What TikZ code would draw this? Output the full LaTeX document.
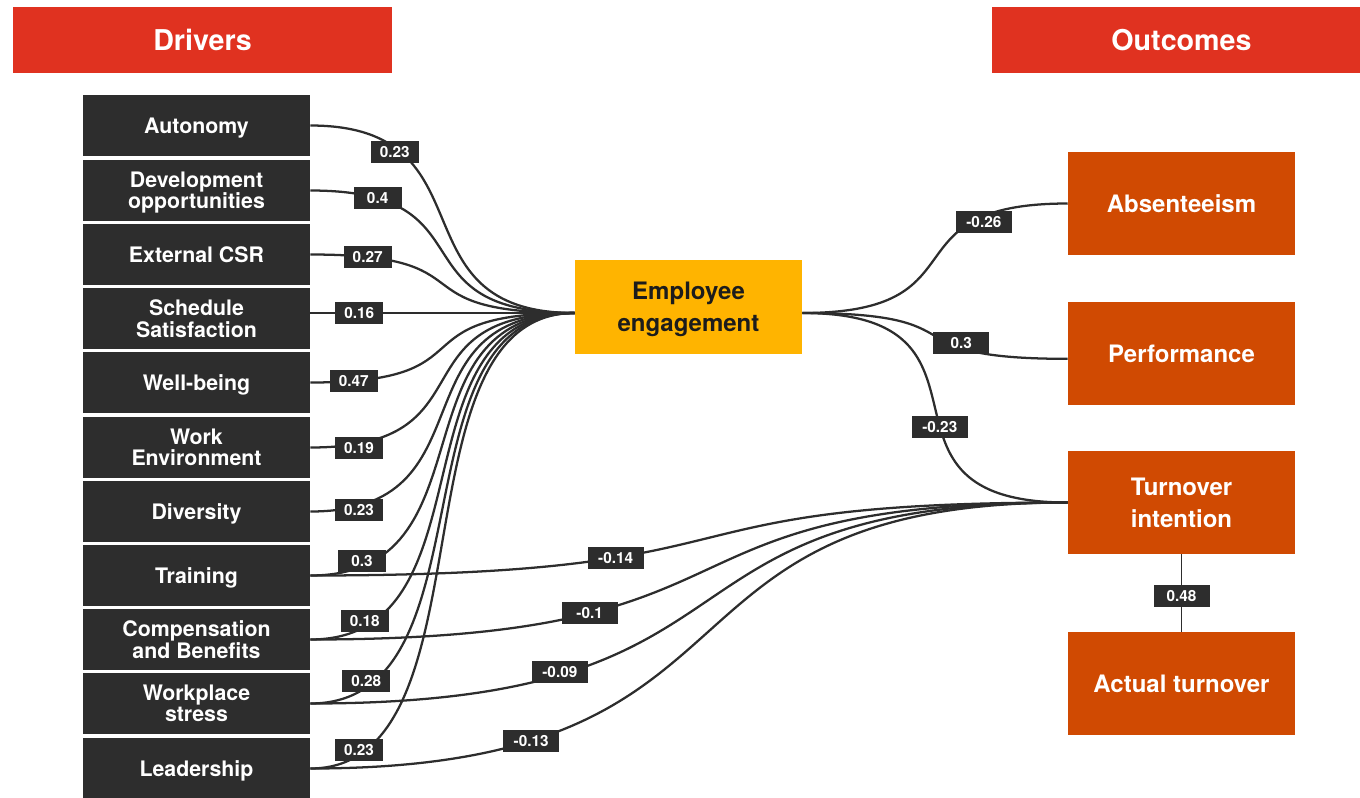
\documentclass[tikz,border=0pt]{standalone}
\usepackage{fontspec}
\setmainfont{TeX Gyre Heros}
\definecolor{hdr}{HTML}{E03220}
\definecolor{drv}{HTML}{2D2D2D}
\definecolor{eng}{HTML}{FFB400}
\definecolor{outc}{HTML}{D04A02}
\definecolor{ink}{HTML}{2D2D2D}
\definecolor{engtext}{HTML}{1C1C1C}
\begin{document}
\begin{tikzpicture}[x=0.75pt,y=-0.75pt,
  header/.style={fill=hdr,text=white,font=\fontsize{21.5}{24}\selectfont\bfseries,minimum height=49.5pt,minimum width=284.25pt,inner sep=0pt,text depth=0pt},
  drvbox/.style={fill=drv,text=white,font=\fontsize{16}{16}\selectfont\bfseries,minimum width=170.25pt,minimum height=45.75pt,inner sep=0pt,align=center,text depth=0pt},
  engbox/.style={fill=eng,text=engtext,font=\fontsize{18}{24}\selectfont\bfseries,minimum width=170.25pt,minimum height=70.5pt,inner sep=0pt,align=center,text depth=0pt},
  outbox/.style={fill=outc,text=white,font=\fontsize{18}{24}\selectfont\bfseries,minimum width=170.25pt,minimum height=77.25pt,inner sep=0pt,align=center,text depth=0pt},
  conn/.style={draw=ink,line width=1.7pt},
  thinconn/.style={draw=ink,line width=1pt},
  lbl/.style={fill=drv,text=white,font=\fontsize{11.5}{12}\selectfont\bfseries,minimum width=36pt,minimum height=16.5pt,inner xsep=6pt,inner ysep=0pt},
  lblw/.style={lbl,minimum width=42pt}
]
\useasboundingbox (0,0) rectangle (1360,797);

% headers
\node[header] (hd) at (202.5,40) {Drivers};
\node[header] (ho) at (1181.5,40) {Outcomes};

% drivers
\node[drvbox] (d1) at (196.5,125.5) {Autonomy};
\node[drvbox] (d2) at (196.5,190.5) {Development\\opportunities};
\node[drvbox] (d3) at (196.5,254.5) {External CSR};
\node[drvbox] (d4) at (196.5,318.5) {Schedule\\Satisfaction};
\node[drvbox] (d5) at (196.5,382.5) {Well-being};
\node[drvbox] (d6) at (196.5,447.5) {Work\\Environment};
\node[drvbox] (d7) at (196.5,511.5) {Diversity};
\node[drvbox] (d8) at (196.5,575.5) {Training};
\node[drvbox] (d9) at (196.5,639.5) {Compensation\\and Benefits};
\node[drvbox] (d10) at (196.5,703.5) {Workplace\\stress};
\node[drvbox] (d11) at (196.5,768.5) {Leadership};

% engagement
\node[engbox] (ee) at (688.5,307) {Employee\\engagement};
\coordinate (eeL) at ([yshift=-4.5pt]ee.west);
\coordinate (eeR) at ([yshift=-4.5pt]ee.east);

% outcomes
\node[outbox] (ab) at (1181.5,203.5) {Absenteeism};
\node[outbox] (pf) at (1181.5,353.5) {Performance};
\node[outbox] (tn) at (1181.5,502.5) {Turnover\\intention};
\node[outbox] (act) at (1181.5,683.5) {Actual turnover};
\coordinate (pfL) at ([yshift=-4pt]pf.west);

% drivers -> engagement
\draw[conn] (d1.east) .. controls +(185.5,0) and +(-185.5,0) .. (eeL) coordinate[pos=0.213] (l1);
\draw[conn] (d2.east) .. controls +(185.5,0) and +(-185.5,0) .. (eeL) coordinate[pos=0.155] (l2);
\draw[conn] (d3.east) .. controls +(185.5,0) and +(-185.5,0) .. (eeL) coordinate[pos=0.126] (l3);
\draw[conn] (d4.east |- eeL) -- (eeL) coordinate[pos=0.185] (l4);
\draw[conn] (d5.east) .. controls +(185.5,0) and +(-185.5,0) .. (eeL) coordinate[pos=0.09] (l5);
\draw[conn] (d6.east) .. controls +(185.5,0) and +(-185.5,0) .. (eeL) coordinate[pos=0.103] (l6);
\draw[conn] (d7.east) .. controls +(185.5,0) and +(-185.5,0) .. (eeL) coordinate[pos=0.103] (l7);
\draw[conn] (d8.east) .. controls +(185.5,0) and +(-185.5,0) .. (eeL) coordinate[pos=0.111] (l8);
\draw[conn] (d9.east) .. controls +(185.5,0) and +(-185.5,0) .. (eeL) coordinate[pos=0.118] (l9);
\draw[conn] (d10.east) .. controls +(185.5,0) and +(-185.5,0) .. (eeL) coordinate[pos=0.122] (l10);
\draw[conn] (d11.east) .. controls +(185.5,0) and +(-185.5,0) .. (eeL) coordinate[pos=0.103] (l11);

% drivers -> turnover intention
\draw[conn] (d8.east) .. controls +(480,0) and +(-440,0) .. (tn.west) coordinate[pos=0.322] (m8);
\draw[conn] (d9.east) .. controls +(480,0) and +(-440,0) .. (tn.west) coordinate[pos=0.28] (m9);
\draw[conn] (d10.east) .. controls +(480,0) and +(-440,0) .. (tn.west) coordinate[pos=0.237] (m10);
\draw[conn] (d11.east) .. controls +(480,0) and +(-440,0) .. (tn.west) coordinate[pos=0.2] (m11);

% engagement -> outcomes
\draw[conn] (eeR) .. controls +(186,0) and +(-186,0) .. (ab.west) coordinate[pos=0.79] (o1);
\draw[conn] (eeR) .. controls +(186,0) and +(-186,0) .. (pfL) coordinate[pos=0.688] (o2);
\draw[conn] (eeR) .. controls +(220,0) and +(-220,0) .. (tn.west) coordinate[pos=0.567] (o3);
\draw[thinconn] (tn.south) -- (act.north) coordinate[pos=0.54] (o4);

% labels
\node[lbl,yshift=-3.75pt] at (l1) {0.23};
\node[lbl] at (l2) {0.4};
\node[lbl] at (l3) {0.27};
\node[lbl] at (l4) {0.16};
\node[lbl] at (l5) {0.47};
\node[lbl,yshift=-3pt] at (l6) {0.19};
\node[lbl,yshift=-3.4pt] at (l7) {0.23};
\node[lbl,yshift=4.5pt] at (l8) {0.3};
\node[lbl,yshift=4.5pt] at (l9) {0.18};
\node[lbl,yshift=4.5pt] at (l10) {0.28};
\node[lbl,yshift=3.75pt] at (l11) {0.23};
\node[lblw] at (m8) {-0.14};
\node[lblw] at (m9) {-0.1};
\node[lblw,yshift=2.25pt] at (m10) {-0.09};
\node[lblw] at (m11) {-0.13};
\node[lblw,yshift=-4.5pt] at (o1) {-0.26};
\node[lblw,yshift=3.75pt] at (o2) {0.3};
\node[lblw] at (o3) {-0.23};
\node[lblw] at (o4) {0.48};
\end{tikzpicture}
\end{document}
